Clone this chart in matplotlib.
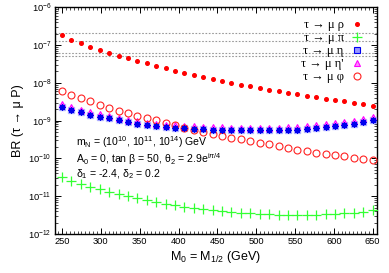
import numpy as np
import matplotlib
matplotlib.use("Agg")
import matplotlib.pyplot as plt
from matplotlib.ticker import MultipleLocator, LogLocator, NullFormatter
from matplotlib.lines import Line2D

plt.rcParams['font.family'] = ['Liberation Sans', 'DejaVu Sans']
plt.rcParams['mathtext.fontset'] = 'custom'
plt.rcParams['mathtext.rm'] = 'Liberation Sans'
plt.rcParams['mathtext.it'] = 'Liberation Sans:italic'
plt.rcParams['mathtext.bf'] = 'Liberation Sans:bold'

# ---- data ----
m0 = np.linspace(250, 650, 34)

br_rho = [1.80e-7, 1.38e-7, 1.12e-7, 9.0e-8, 7.5e-8, 6.24e-8, 5.19e-8, 4.49e-8, 3.82e-8,
          3.30e-8, 2.81e-8, 2.43e-8, 2.05e-8, 1.87e-8, 1.62e-8, 1.40e-8, 1.27e-8, 1.15e-8,
          1.01e-8, 8.95e-9, 8.07e-9, 7.31e-9, 6.59e-9, 6.10e-9, 5.48e-9, 4.94e-9, 4.49e-9,
          4.11e-9, 3.80e-9, 3.51e-9, 3.24e-9, 2.97e-9, 2.72e-9, 2.48e-9]

br_pi = [3.20e-11, 2.58e-11, 2.11e-11, 1.79e-11, 1.52e-11, 1.29e-11, 1.13e-11, 1.00e-11,
         8.85e-12, 7.83e-12, 6.92e-12, 6.24e-12, 5.76e-12, 5.32e-12, 4.89e-12, 4.51e-12,
         4.25e-12, 3.99e-12, 3.82e-12, 3.68e-12, 3.53e-12, 3.38e-12, 3.32e-12, 3.26e-12,
         3.26e-12, 3.18e-12, 3.18e-12, 3.26e-12, 3.32e-12, 3.38e-12, 3.53e-12, 3.68e-12,
         3.92e-12, 4.33e-12]

br_eta = [2.29e-9, 1.94e-9, 1.68e-9, 1.45e-9, 1.26e-9, 1.14e-9, 1.01e-9, 9.12e-10, 8.22e-10,
          7.59e-10, 7.14e-10, 6.71e-10, 6.44e-10, 6.24e-10, 6.05e-10, 5.94e-10, 5.80e-10,
          5.69e-10, 5.58e-10, 5.58e-10, 5.58e-10, 5.58e-10, 5.52e-10, 5.52e-10, 5.69e-10,
          5.80e-10, 6.05e-10, 6.44e-10, 6.84e-10, 7.28e-10, 7.74e-10, 8.37e-10, 9.29e-10,
          1.05e-9]

br_etap = [2.68e-9, 2.27e-9, 1.97e-9, 1.70e-9, 1.47e-9, 1.33e-9, 1.18e-9, 1.07e-9, 9.6e-10,
           8.9e-10, 8.35e-10, 7.85e-10, 7.55e-10, 7.3e-10, 7.08e-10, 6.95e-10, 6.8e-10,
           6.67e-10, 6.55e-10, 6.53e-10, 6.53e-10, 6.53e-10, 6.47e-10, 6.47e-10, 6.66e-10,
           6.8e-10, 7.1e-10, 7.55e-10, 8.0e-10, 8.5e-10, 9.05e-10, 9.8e-10, 1.09e-9, 1.23e-9]

br_phi = [6.21e-9, 4.76e-9, 3.87e-9, 3.22e-9, 2.63e-9, 2.19e-9, 1.82e-9, 1.56e-9, 1.34e-9,
          1.17e-9, 1.01e-9, 8.90e-10, 7.63e-10, 6.55e-10, 5.58e-10, 4.94e-10, 4.45e-10,
          4.01e-10, 3.55e-10, 3.22e-10, 2.85e-10, 2.57e-10, 2.39e-10, 2.10e-10, 1.89e-10,
          1.70e-10, 1.57e-10, 1.42e-10, 1.33e-10, 1.23e-10, 1.14e-10, 1.04e-10, 9.8e-11,
          9.2e-11]

bounds = [2.1e-7, 1.3e-7, 6.0e-8, 5.1e-8]

labels = [u"τ → μ ρ", u"τ → μ π", u"τ → μ η", u"τ → μ η'", u"τ → μ φ"]
xticks = [250, 300, 350, 400, 450, 500, 550, 600, 650]

# ---- figure ----
fig = plt.figure(figsize=(3.89, 2.73), dpi=100)
ax = fig.add_axes([0.1406, 0.1429, 0.9684 - 0.1406, 0.9733 - 0.1429])

for b in bounds:
    ax.axhline(b, color='#999999', lw=0.8, ls=(0, (1.5, 1.5)), zorder=1)

ax.plot(m0, br_rho, ls='none', marker='o', ms=2.6, color='#ff0000', mec='#ff0000', zorder=3)
ax.plot(m0, br_pi, ls='none', marker='+', ms=6.5, mew=0.9, color='#33ff33', zorder=3)
# eta: light square halo + blue asterisk
ax.plot(m0, br_eta, ls='none', marker='s', ms=4.3, mfc='#9999ff', mec='#9999ff',
        alpha=0.7, zorder=3)
ax.plot(m0, br_eta, ls='none', marker=(8, 2, 0), ms=4.3, mew=0.9, color='#0000ee', zorder=4)
ax.plot(m0, br_etap, ls='none', marker='^', ms=4.3, mfc='#ff88ff', mec='#ff00ff', mew=0.8,
        zorder=3)
ax.plot(m0, br_phi, ls='none', marker='o', ms=5.0, mfc='none', mec='#ff2222', mew=0.8,
        zorder=3)

h_rho = Line2D([], [], ls='none', marker='o', ms=2.6, color='#ff0000')
h_pi = Line2D([], [], ls='none', marker='+', ms=6.5, mew=0.9, color='#33ff33')
h_eta = Line2D([], [], ls='none', marker='s', ms=4.3, mfc='#9999ff', mec='#0000ee', mew=0.8)
h_etap = Line2D([], [], ls='none', marker='^', ms=4.3, mfc='#ff88ff', mec='#ff00ff', mew=0.8)
h_phi = Line2D([], [], ls='none', marker='o', ms=5.0, mfc='none', mec='#ff2222', mew=0.8)
ax.legend([h_rho, h_pi, h_eta, h_etap, h_phi], labels, loc='upper right',
          frameon=False, markerfirst=False, handlelength=1.0, handletextpad=0.6,
          labelspacing=0.08, borderaxespad=0.0, bbox_to_anchor=(0.975, 0.97),
          prop={'family': ['Liberation Serif', 'DejaVu Serif'], 'size': 9})

ax.set_yscale('log')
ax.set_ylim(1e-12, 1e-6)
ax.set_xlim(240.5, 655.2)
ax.set_xticks(xticks)
ax.xaxis.set_minor_locator(MultipleLocator(5))
ax.yaxis.set_major_locator(LogLocator(base=10, numticks=20))
ax.yaxis.set_minor_locator(LogLocator(base=10, subs=np.arange(2, 10), numticks=20))
ax.yaxis.set_minor_formatter(NullFormatter())
ax.tick_params(which='both', direction='in', top=True, right=True, labelsize=6.7, pad=2.5)
ax.tick_params(which='major', length=4, width=0.7)
ax.tick_params(which='minor', length=2, width=0.5)
for s in ax.spines.values():
    s.set_linewidth(1.0)

ax.set_xlabel(r"M$_0$ = M$_{1/2}$ (GeV)", fontsize=9, labelpad=2)
ax.set_ylabel(u"BR (τ → μ P)", fontsize=9, labelpad=3)

ax.text(0.065, 0.405, r"m$_\mathrm{N}$ = (10$^{10}$, 10$^{11}$, 10$^{14}$) GeV",
        transform=ax.transAxes, fontsize=7.6, va='center', ha='left')
ax.text(0.065, 0.33, u"A$_0$ = 0, tan β = 50, θ$_2$ = 2.9e$^{\\mathrm{i}π\\mathrm{/4}}$",
        transform=ax.transAxes, fontsize=7.6, va='center', ha='left')
ax.text(0.065, 0.263, u"δ$_1$ = -2.4, δ$_2$ = 0.2",
        transform=ax.transAxes, fontsize=7.6, va='center', ha='left')

fig.savefig("out.png", dpi=100)
